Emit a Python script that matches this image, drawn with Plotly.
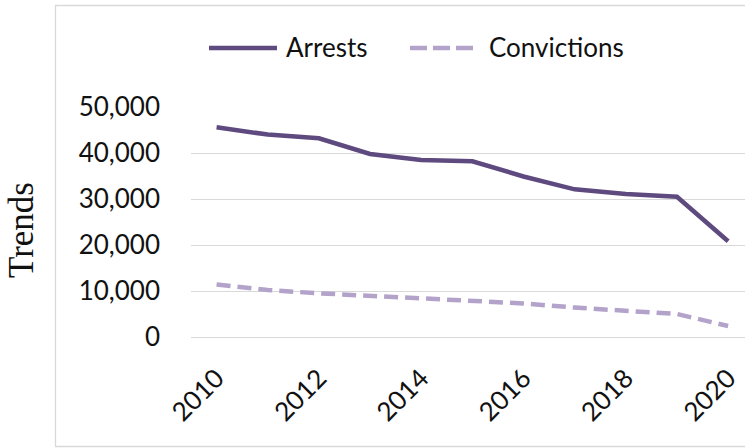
import plotly.graph_objects as go

# Yearly totals
years = [2010, 2011, 2012, 2013, 2014, 2015, 2016, 2017, 2018, 2019, 2020]
arrests = [45600, 44000, 43200, 39800, 38500, 38200, 34900, 32100, 31100, 30500, 20800]
convictions = [11400, 10200, 9500, 8900, 8400, 7900, 7300, 6400, 5600, 5000, 2400]
y_ticks = [0, 10000, 20000, 30000, 40000, 50000]
x_ticks = [2010, 2012, 2014, 2016, 2018, 2020]

ARREST_COLOR = "#5E4A7E"
CONVICT_COLOR = "#B3A3CA"
GRID_COLOR = "#D9D9D9"
TEXT_COLOR = "#111111"
FONT = "Lato"

W, H = 745, 448
ML, MR, MT, MB = 191, 0, 107, 111
PW, PH = W - ML - MR, H - MT - MB


def px_x(px):
    return (px - ML) / PW


def px_y(py):
    return (H - MB - py) / PH


fig = go.Figure()
fig.add_trace(go.Scatter(
    x=years, y=arrests, name="Arrests", mode="lines",
    line=dict(color=ARREST_COLOR, width=4.5), showlegend=False,
))
fig.add_trace(go.Scatter(
    x=years, y=convictions, name="Convictions", mode="lines",
    line=dict(color=CONVICT_COLOR, width=4.5, dash="14px,7px"), showlegend=False,
))

shapes = [
    # outer chart frame
    dict(type="rect", xref="paper", yref="paper",
         x0=px_x(55.5), x1=px_x(747), y0=px_y(446.5), y1=px_y(5.5),
         line=dict(color=GRID_COLOR, width=1.3), layer="below"),
    # legend keys
    dict(type="line", xref="paper", yref="paper",
         x0=px_x(209), x1=px_x(277), y0=px_y(48), y1=px_y(48),
         line=dict(color=ARREST_COLOR, width=4.5)),
    dict(type="line", xref="paper", yref="paper",
         x0=px_x(410), x1=px_x(476), y0=px_y(48), y1=px_y(48),
         line=dict(color=CONVICT_COLOR, width=4.5, dash="17px,6px")),
]

annotations = [
    dict(text="Arrests", xref="paper", yref="paper", x=px_x(284), y=px_y(47),
         xanchor="left", yanchor="middle", showarrow=False,
         font=dict(family=FONT, size=26, color=TEXT_COLOR)),
    dict(text="Convictions", xref="paper", yref="paper", x=px_x(487), y=px_y(47),
         xanchor="left", yanchor="middle", showarrow=False,
         font=dict(family=FONT, size=26, color=TEXT_COLOR)),
    dict(text="Trends", xref="paper", yref="paper", x=px_x(21), y=px_y(230),
         xanchor="center", yanchor="middle", textangle=-90, showarrow=False,
         font=dict(family="Liberation Serif", size=35, color=TEXT_COLOR)),
]

fig.update_layout(
    width=W, height=H,
    margin=dict(l=ML, r=MR, t=MT, b=MB),
    paper_bgcolor="white", plot_bgcolor="white",
    shapes=shapes, annotations=annotations,
    showlegend=False,
    font=dict(family=FONT, size=26, color=TEXT_COLOR),
)
fig.update_xaxes(
    range=[2009.5, 2020.33], tickvals=x_ticks, ticktext=[str(t) for t in x_ticks],
    tickangle=-45, showgrid=False, zeroline=False, showline=False,
    ticks="", ticklabelstandoff=20,
    tickfont=dict(family=FONT, size=26, color=TEXT_COLOR),
)
fig.update_yaxes(
    range=[0, 50000], tickvals=y_ticks, tickformat=",",
    showgrid=True, gridcolor=GRID_COLOR, gridwidth=1.3,
    zeroline=True, zerolinecolor=GRID_COLOR, zerolinewidth=1.3,
    showline=False, ticks="", ticklabelstandoff=30,
    tickfont=dict(family=FONT, size=26, color=TEXT_COLOR),
)

fig.write_html("out.html")
